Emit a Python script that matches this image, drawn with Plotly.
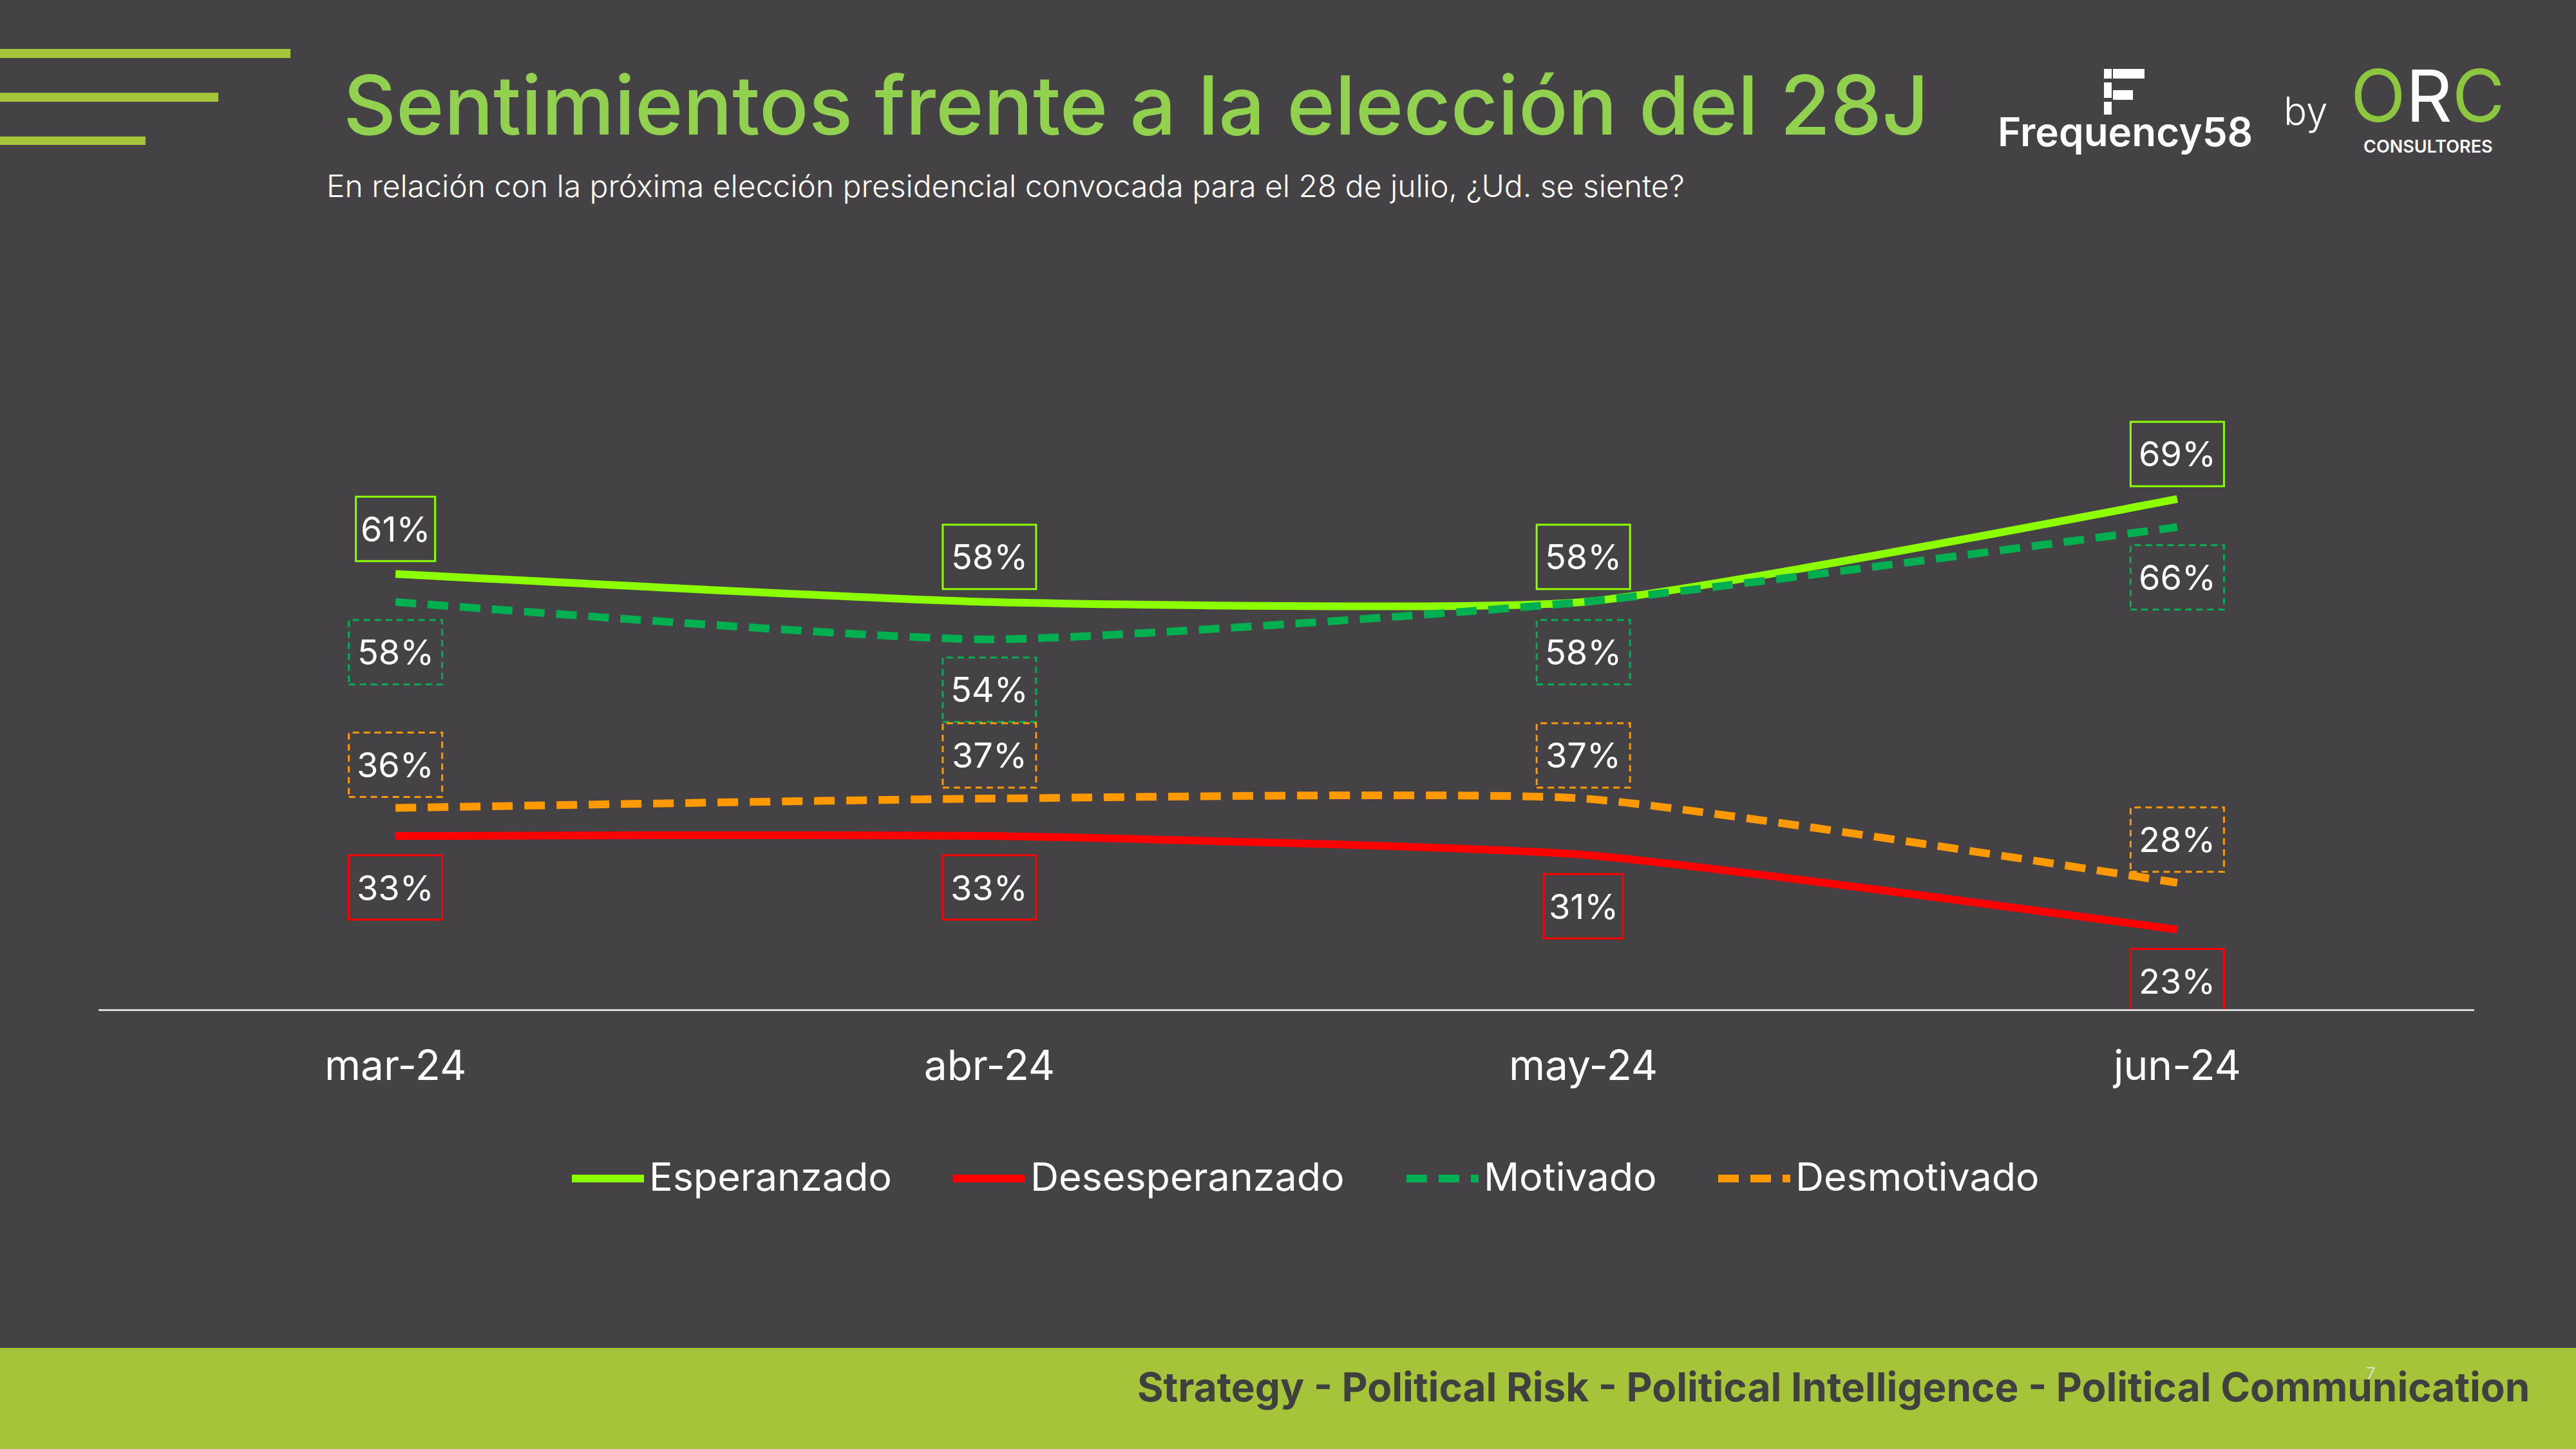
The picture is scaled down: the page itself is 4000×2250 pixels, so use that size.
import plotly.graph_objects as go

# ---------------- data ----------------
categories = ["mar-24", "abr-24", "may-24", "jun-24"]
esperanzado = [61, 58, 58, 69]
desesperanzado = [33, 33, 31, 23]
motivado = [58, 54, 58, 66]
desmotivado = [36, 37, 37, 28]

series_names = ["Esperanzado", "Desesperanzado", "Motivado", "Desmotivado"]
series_values = [esperanzado, desesperanzado, motivado, desmotivado]

title_text = "Sentimientos frente a la elección del 28J"
subtitle_text = ("En relación con la próxima elección presidencial convocada para el 28 de julio, "
                 "¿Ud. se siente?")
footer_text = "Strategy - Political Risk - Political Intelligence - Political Communication"

# ---------------- style ----------------
W, H = 4000, 2250
BG = "#444244"
BAND = "#A6C439"
FONT = "Inter"
colors = ["#8CFF00", "#FF0000", "#00B050", "#FF9900"]
dashes = ["solid", "solid", "32px,18px", "32px,18px"]
label_dash = ["solid", "solid", "10px,7px", "10px,7px"]
label_offset = [70, -80, -78, 67]   # pixel offset of label centre from point (+ up)
legend_x = [888, 1480, 2184, 2668]  # left edge of each legend line sample (px)


def px(x):
    return x / W


def py(y):
    return 1 - y / H


xi = list(range(len(categories)))

fig = go.Figure()
for name, vals, col, dsh in zip(series_names, series_values, colors, dashes):
    fig.add_trace(go.Scatter(
        x=xi, y=vals, name=name, mode="lines",
        line=dict(color=col, width=12, dash=dsh, shape="spline", smoothing=0.5),
        hoverinfo="skip", showlegend=False,
    ))

shapes = []
annotations = []

# value labels with boxes
for vals, col, ldsh, off in zip(series_values, colors, label_dash, label_offset):
    for i, v in enumerate(vals):
        txt = f"{v}%"
        w = 145 - 22 * txt.count("1")
        shapes.append(dict(
            type="rect", xref="x", yref="y", xsizemode="pixel", ysizemode="pixel",
            xanchor=i, yanchor=v, x0=-w / 2, x1=w / 2, y0=off - 50, y1=off + 50,
            line=dict(color=col, width=3, dash=ldsh), fillcolor="rgba(0,0,0,0)",
            layer="above",
        ))
        annotations.append(dict(
            x=i, y=v, xref="x", yref="y", text=txt, showarrow=False,
            yshift=off, font=dict(family=FONT, size=54, color="white"),
            xanchor="center", yanchor="middle",
        ))

# legend (line sample + text)
for name, col, dsh, lx in zip(series_names, colors, dashes, legend_x):
    shapes.append(dict(type="line", xref="paper", yref="paper",
                       x0=px(lx), x1=px(lx + 112), y0=py(1830), y1=py(1830),
                       line=dict(color=col, width=12, dash=dsh)))
    annotations.append(dict(x=px(lx + 118), y=py(1827), xref="paper", yref="paper",
                            text=name, showarrow=False, xanchor="left", yanchor="middle",
                            font=dict(family=FONT, size=61, color="white")))

# decorative lines top-left
for y0, y1, x1 in [(76, 90, 451), (144, 158, 339), (212, 225, 226)]:
    shapes.append(dict(type="rect", xref="paper", yref="paper",
                       x0=0, x1=px(x1), y0=py(y1), y1=py(y0),
                       fillcolor=BAND, line=dict(width=0), layer="below"))

# footer band
shapes.append(dict(type="rect", xref="paper", yref="paper",
                   x0=0, x1=1, y0=0, y1=py(2093),
                   fillcolor=BAND, line=dict(width=0), layer="below"))

# Frequency58 "F" icon
for x0, x1, y0, y1 in [(3281, 3330, 107, 122), (3267, 3279, 107, 122),
                       (3267, 3279, 128, 152), (3281, 3312, 140, 155),
                       (3267, 3279, 158, 178)]:
    shapes.append(dict(type="rect", xref="paper", yref="paper",
                       x0=px(x0), x1=px(x1), y0=py(y1), y1=py(y0),
                       fillcolor="white", line=dict(width=0)))

# title and subtitle
annotations.append(dict(x=px(531), y=py(163), xref="paper", yref="paper",
                        text=title_text, showarrow=False, xanchor="left", yanchor="middle",
                        font=dict(family=FONT, size=127, color="#92D050", weight=500)))
annotations.append(dict(x=px(505), y=py(288), xref="paper", yref="paper",
                        text=subtitle_text, showarrow=False, xanchor="left", yanchor="middle",
                        font=dict(family=FONT, size=48, color="white", weight=300)))

# logos
annotations.append(dict(x=px(3300), y=py(204), xref="paper", yref="paper",
                        text="Frequency58", showarrow=False, xanchor="center", yanchor="middle",
                        font=dict(family=FONT, size=62, color="white", weight=600)))
annotations.append(dict(x=px(3580), y=py(172), xref="paper", yref="paper",
                        text="by", showarrow=False, xanchor="center", yanchor="middle",
                        font=dict(family=FONT, size=60, color="white", weight=300)))
annotations.append(dict(x=px(3770), y=py(148), xref="paper", yref="paper",
                        text="<span style='color:#8DC63F'>O</span><span style='color:white'>R</span>"
                             "<span style='color:#8DC63F'>C</span>",
                        showarrow=False, xanchor="center", yanchor="middle",
                        font=dict(family=FONT, size=112, color="#8DC63F", weight=400)))
annotations.append(dict(x=px(3770), y=py(228), xref="paper", yref="paper",
                        text="CONSULTORES", showarrow=False, xanchor="center", yanchor="middle",
                        font=dict(family=FONT, size=27, color="white", weight=600)))

# footer text
annotations.append(dict(x=px(3930), y=py(2153), xref="paper", yref="paper",
                        text=footer_text, showarrow=False, xanchor="right", yanchor="middle",
                        font=dict(family=FONT, size=62, color="#404040", weight=700)))
annotations.append(dict(x=px(3681), y=py(2132), xref="paper", yref="paper",
                        text="7", showarrow=False, xanchor="center", yanchor="middle",
                        font=dict(family=FONT, size=26, color="#E8E8E8", weight=300)))

fig.update_layout(
    width=W, height=H,
    margin=dict(l=0, r=0, t=0, b=0),
    paper_bgcolor=BG, plot_bgcolor=BG,
    shapes=shapes, annotations=annotations,
    showlegend=False,
    xaxis=dict(domain=[px(153), px(3842)], range=[-0.5, 3.5],
               tickvals=xi, ticktext=categories,
               showgrid=False, zeroline=False,
               showline=True, linecolor="#D9D9D9", linewidth=3,
               ticks="", ticklabelstandoff=30,
               tickfont=dict(family=FONT, size=64, color="white")),
    yaxis=dict(domain=[py(1567), py(397)], range=[14.5, 95],
               showgrid=False, zeroline=False, showline=False,
               showticklabels=False, ticks=""),
)

fig.write_html("out.html",
               config={"displayModeBar": False},
               post_script="document.body.style.margin='0';"
                           "document.body.style.overflow='hidden';"
                           "document.body.style.background='" + BG + "';")
